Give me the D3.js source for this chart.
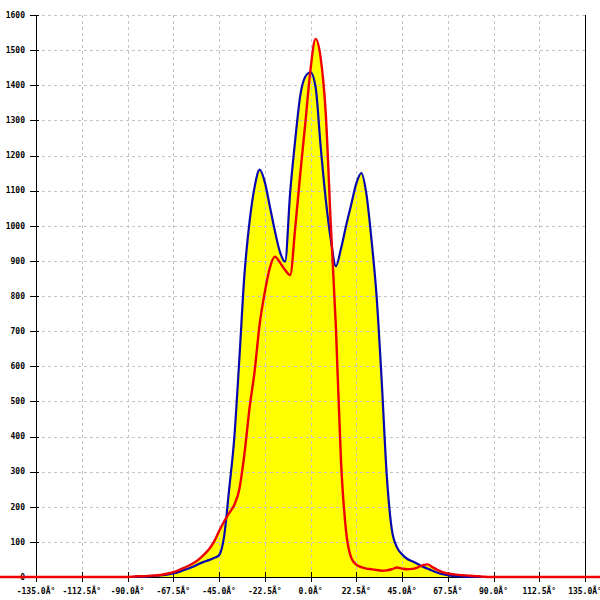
<!DOCTYPE html>
<html><head><meta charset="utf-8">
<script src="https://cdn.jsdelivr.net/npm/d3@7/dist/d3.min.js"></script>
<style>html,body{margin:0;padding:0;background:#fff;}svg{display:block;}</style>
</head><body>
<script>
const angles = [-180, -90, -87.5, -85, -82.5, -80, -77.5, -75, -72.5, -70, -67.5, -65, -62.5, -60, -57.5, -55, -52.5, -50, -47.5, -45, -42.5, -40, -37.5, -35, -32.5, -30, -27.5, -25, -22.5, -20, -17.5, -15, -12.5, -10, -7.5, -5, -2.5, 0, 2.5, 5, 7.5, 10, 12.5, 15, 17.5, 20, 22.5, 25, 27.5, 30, 32.5, 35, 37.5, 40, 42.5, 45, 47.5, 50, 52.5, 55, 57.5, 60, 62.5, 65, 67.5, 70, 72.5, 75, 77.5, 80, 82.5, 85, 87.5, 90, 180];
const blueValues = [0, 0, 0, 1, 1, 2, 3, 4, 5, 7, 10, 14, 19, 24, 30, 37, 43, 48, 54, 62, 115, 250, 395, 620, 860, 1010, 1110, 1160, 1125, 1055, 985, 925, 898, 1095, 1245, 1372, 1425, 1437, 1395, 1225, 1075, 960, 885, 935, 1000, 1060, 1120, 1150, 1090, 960, 800, 560, 290, 135, 85, 65, 52, 45, 38, 30, 24, 18, 12, 8, 5, 3, 2, 1, 0, 0, 0, 0, 0, 0, 0];
const redValues = [0, 0, 1, 2, 2, 3, 4, 5, 7, 10, 14, 19, 25, 32, 40, 50, 63, 78, 100, 130, 158, 182, 205, 250, 350, 480, 585, 720, 810, 880, 912, 895, 874, 860, 995, 1150, 1295, 1445, 1532, 1478, 1320, 1000, 710, 330, 130, 55, 35, 28, 24, 22, 20, 18, 19, 22, 27, 24, 22, 23, 27, 33, 36, 28, 20, 14, 10, 8, 6, 5, 4, 3, 2, 1, 0, 0, 0];
const xTicks = [-135, -112.5, -90, -67.5, -45, -22.5, 0, 22.5, 45, 67.5, 90, 112.5, 135];
const xTickLabels = ["-135.0Â°", "-112.5Â°", "-90.0Â°", "-67.5Â°", "-45.0Â°", "-22.5Â°", "0.0Â°", "22.5Â°", "45.0Â°", "67.5Â°", "90.0Â°", "112.5Â°", "135.0Â°"];
const yTicks = [0, 100, 200, 300, 400, 500, 600, 700, 800, 900, 1000, 1100, 1200, 1300, 1400, 1500, 1600];

const W = 600, H = 600;
const pL = 36, pR = 585, pT = 15, pB = 577;
const x = d3.scaleLinear().domain([-135, 135]).range([pL, pR]);
const y = d3.scaleLinear().domain([0, 1600]).range([pB, pT]);

const svg = d3.select("body").append("svg").attr("width", W).attr("height", H);
const blue = angles.map((a, i) => [a, blueValues[i]]);
const red = angles.map((a, i) => [a, redValues[i]]);

const curve = d3.curveMonotoneX;
const area = d3.area().x(d => x(d[0])).y0(y(0)).y1(d => y(d[1])).curve(curve);
const line = d3.line().x(d => x(d[0])).y(d => y(d[1])).curve(curve);

svg.append("path").attr("d", area(blue)).attr("fill", "#ffff00");
svg.append("path").attr("d", area(red)).attr("fill", "#ffff00");

// grid
const grid = svg.append("g").attr("stroke", "#c4c4c4").attr("stroke-width", 1).attr("stroke-dasharray", "3,3").attr("shape-rendering", "crispEdges");
grid.selectAll("line.h").data(yTicks).join("line")
  .attr("x1", pL).attr("x2", pR)
  .attr("y1", d => Math.round(y(d)) + 0.5).attr("y2", d => Math.round(y(d)) + 0.5);
grid.selectAll("line.v").data(xTicks.slice(1, -1)).join("line")
  .attr("y1", pT).attr("y2", pB)
  .attr("x1", d => Math.round(x(d)) + 0.5).attr("x2", d => Math.round(x(d)) + 0.5);

// axes
const ax = svg.append("g").attr("stroke", "#000").attr("stroke-width", 1).attr("shape-rendering", "crispEdges");
ax.append("line").attr("x1", pL + 0.5).attr("x2", pL + 0.5).attr("y1", pT).attr("y2", pB);
ax.append("line").attr("x1", pR + 0.5).attr("x2", pR + 0.5).attr("y1", pT).attr("y2", pB);
ax.append("line").attr("x1", pL).attr("x2", pR).attr("y1", pB + 0.5).attr("y2", pB + 0.5);
ax.selectAll("line.yt").data(yTicks).join("line")
  .attr("x1", pL - 6).attr("x2", pL + 3)
  .attr("y1", d => Math.round(y(d)) + 0.5).attr("y2", d => Math.round(y(d)) + 0.5);
ax.selectAll("line.xt").data(xTicks).join("line")
  .attr("y1", pB - 5).attr("y2", pB + 5)
  .attr("x1", d => Math.round(x(d)) + 0.5).attr("x2", d => Math.round(x(d)) + 0.5);

const font = "'DejaVu Sans Mono', monospace";
svg.append("g").selectAll("text").data(yTicks).join("text")
  .attr("x", 25).attr("y", d => y(d)).attr("dy", "0.35em")
  .attr("text-anchor", "end").attr("font-family", font).attr("font-size", 8).attr("font-weight", "bold")
  .text(d => d);
svg.append("g").selectAll("text").data(xTicks).join("text")
  .attr("x", d => x(d)).attr("y", 594)
  .attr("text-anchor", "middle").attr("font-family", font).attr("font-size", 8).attr("font-weight", "bold")
  .text((d, i) => xTickLabels[i]);

svg.append("path").attr("d", line(blue)).attr("fill", "none").attr("stroke", "#0808b0").attr("stroke-width", 2.2);
svg.append("path").attr("d", line(red)).attr("fill", "none").attr("stroke", "#ee0000").attr("stroke-width", 2.4);
</script>
</body></html>
